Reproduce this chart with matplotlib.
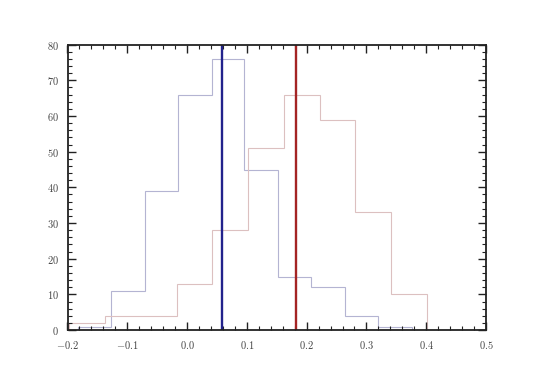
import matplotlib
matplotlib.use("Agg")
import matplotlib.pyplot as plt
from matplotlib.ticker import MultipleLocator

# Data
blue_edges = [-0.183, -0.127, -0.071, -0.015, 0.041, 0.096, 0.152, 0.208, 0.264, 0.320, 0.376]
blue_counts = [1, 11, 39, 66, 76, 45, 15, 12, 4, 1]
red_edges = [-0.197, -0.137, -0.077, -0.017, 0.042, 0.102, 0.162, 0.222, 0.281, 0.341, 0.401]
red_counts = [2, 4, 4, 13, 28, 51, 66, 59, 33, 10]
blue_mean = 0.059
red_mean = 0.182

plt.rcParams['font.family'] = 'serif'
plt.rcParams['font.serif'] = ['cmr10', 'DejaVu Serif']
plt.rcParams['mathtext.fontset'] = 'cm'
plt.rcParams['axes.formatter.use_mathtext'] = True

fig = plt.figure(figsize=(5.4, 3.71), dpi=100)
ax = fig.add_subplot(111)

ax.stairs(blue_counts, blue_edges, color='#b4b4d2', lw=0.8)
ax.stairs(red_counts, red_edges, color='#dcc0c0', lw=0.8)
ax.axvline(blue_mean, color='#22228c', lw=1.7)
ax.axvline(red_mean, color='#a42424', lw=1.7)

ax.set_xlim(-0.2, 0.5)
ax.set_ylim(0, 80)
ax.xaxis.set_major_locator(MultipleLocator(0.1))
ax.xaxis.set_minor_locator(MultipleLocator(0.02))
ax.yaxis.set_major_locator(MultipleLocator(10))
ax.yaxis.set_minor_locator(MultipleLocator(2))
ax.tick_params(which='both', direction='in', top=True, right=True, labelsize=7.5, color='#222222')
ax.tick_params(axis='x', which='major', pad=6)
ax.tick_params(axis='y', which='major', pad=6)
ax.tick_params(which='major', length=6, width=1)
ax.tick_params(which='minor', length=3, width=0.8)
for s in ax.spines.values():
    s.set_linewidth(1.3)
    s.set_color('#222222')
for lab in ax.get_xticklabels() + ax.get_yticklabels():
    lab.set_color('#444444')

fig.savefig('out.png', dpi=100)
